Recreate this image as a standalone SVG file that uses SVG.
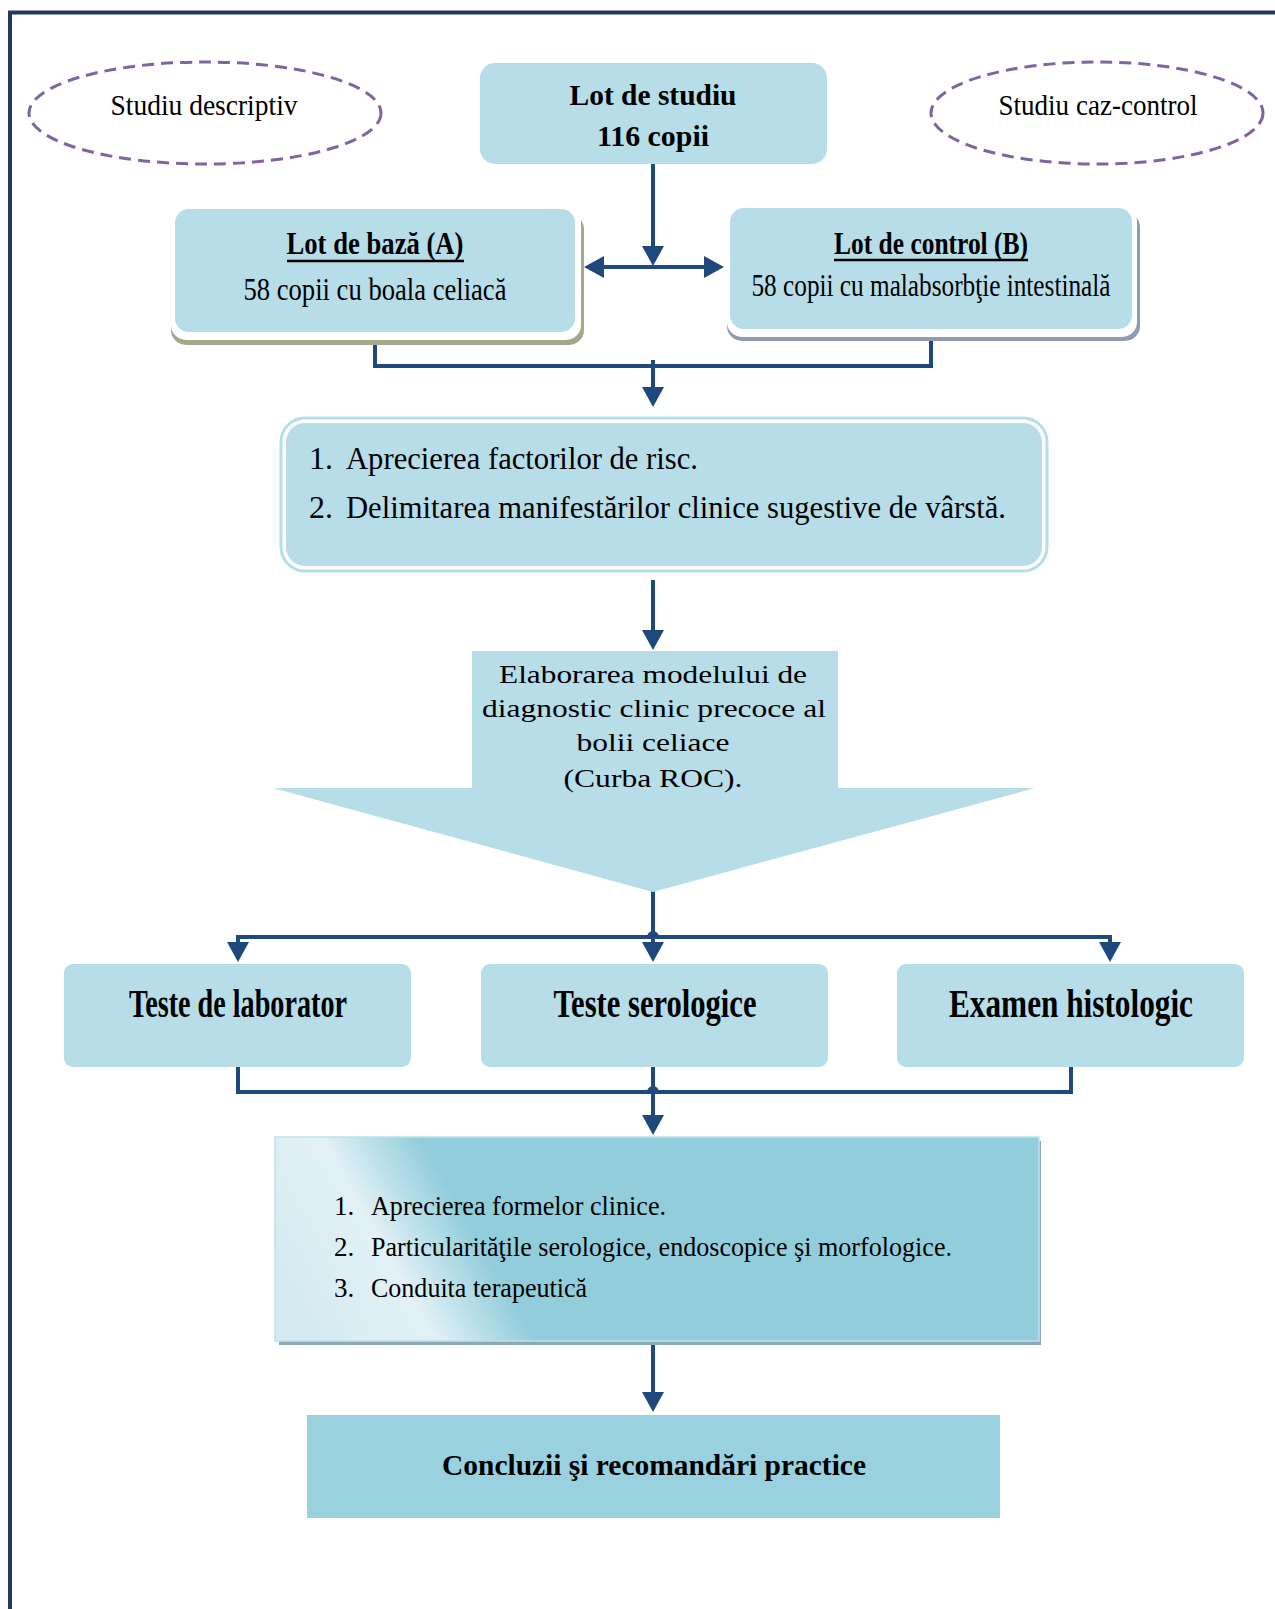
<svg xmlns="http://www.w3.org/2000/svg" width="1275" height="1609" viewBox="0 0 1275 1609">
<style>
.t{font-family:"Liberation Serif","Times New Roman",serif;fill:#000}
.b{font-weight:bold}
.c{text-anchor:middle}
.box{fill:#b7dde8}
.ell{fill:none;stroke:#8064a2;stroke-width:3;stroke-dasharray:12 7}
.con{fill:none;stroke:#1f497d;stroke-width:4}
.ul{stroke:#000;stroke-width:2.6}
</style>
<defs>
<marker id="ah" viewBox="0 0 20 22" refX="10" refY="11" markerWidth="20" markerHeight="22" markerUnits="userSpaceOnUse" orient="auto-start-reverse">
<path d="M0,0 L20,11 L0,22 z" fill="#1f497d"/>
</marker>
<linearGradient id="sheen" gradientUnits="userSpaceOnUse" x1="260" y1="1260" x2="560" y2="1090">
<stop offset="0" stop-color="#d3eaf1"/>
<stop offset="0.33" stop-color="#e2f1f6"/>
<stop offset="0.58" stop-color="#92cddc"/>
<stop offset="1" stop-color="#92cddc"/>
</linearGradient>
</defs>
<rect width="1275" height="1609" fill="#fff"/>
<g id="frame">
<line x1="8" y1="12.5" x2="1275" y2="12.5" stroke="#1f3864" stroke-width="4"/>
<line x1="10" y1="11" x2="10" y2="1609" stroke="#1f3864" stroke-width="4"/>
</g>

<g id="connectors">
<line class="con" x1="653" y1="164" x2="653" y2="256" marker-end="url(#ah)"/>
<line class="con" x1="594" y1="267" x2="714" y2="267" marker-start="url(#ah)" marker-end="url(#ah)"/>
<path class="con" d="M375,334 V366 H931 V338"/>
<line class="con" x1="653" y1="360" x2="653" y2="397" marker-end="url(#ah)"/>
<line class="con" x1="653" y1="580" x2="653" y2="640" marker-end="url(#ah)"/>
<line class="con" x1="653" y1="890" x2="653" y2="952" marker-end="url(#ah)"/>
<path class="con" d="M238,952 V937 H649 a4,4 0 0 1 8,0 H1110 V952" marker-start="url(#ah)" marker-end="url(#ah)"/>
<path class="con" d="M238,1067 V1092 H649 a4,4 0 0 1 8,0 H1071 V1067"/>
<line class="con" x1="653" y1="1067" x2="653" y2="1125" marker-end="url(#ah)"/>
<line class="con" x1="653" y1="1343" x2="653" y2="1402" marker-end="url(#ah)"/>
</g>

<g id="ellipse-descriptiv">
<ellipse class="ell" cx="205" cy="113" rx="176" ry="51"/>
<text class="t c" x="204" y="115" font-size="30" textLength="187" lengthAdjust="spacingAndGlyphs">Studiu descriptiv</text>
</g>
<g id="ellipse-caz-control">
<ellipse class="ell" cx="1097" cy="113" rx="166" ry="51"/>
<text class="t c" x="1098" y="115" font-size="30" textLength="199" lengthAdjust="spacingAndGlyphs">Studiu caz-control</text>
</g>

<g id="lot-studiu">
<rect class="box" x="480" y="63" width="347" height="101" rx="15"/>
<text class="t b c" x="653" y="105" font-size="30" textLength="167" lengthAdjust="spacingAndGlyphs">Lot de studiu</text>
<text class="t b c" x="653" y="146" font-size="30" textLength="112" lengthAdjust="spacingAndGlyphs">116 copii</text>
</g>

<g id="lot-baza">
<rect x="171" y="214" width="413" height="131" rx="15" fill="#a4a98a"/>
<rect x="171" y="207" width="410" height="133" rx="15" fill="#fff"/>
<rect class="box" x="175" y="209" width="400" height="123" rx="14"/>
<text class="t b c" x="375" y="254" font-size="31" textLength="177" lengthAdjust="spacingAndGlyphs">Lot de bază (A)</text>
<line class="ul" x1="287" y1="261" x2="464" y2="261"/>
<text class="t c" x="375" y="300" font-size="31" textLength="263" lengthAdjust="spacingAndGlyphs">58 copii cu boala celiacă</text>
</g>

<g id="lot-control">
<rect x="727" y="212" width="413" height="129" rx="15" fill="#8f9bb0"/>
<rect x="727" y="206" width="410" height="131" rx="15" fill="#fff"/>
<rect class="box" x="730" y="208" width="402" height="121" rx="14"/>
<text class="t b c" x="931" y="254" font-size="31" textLength="194" lengthAdjust="spacingAndGlyphs">Lot de control (B)</text>
<line class="ul" x1="834" y1="260" x2="1028" y2="260"/>
<text class="t c" x="931" y="296" font-size="31" textLength="359" lengthAdjust="spacingAndGlyphs">58 copii cu malabsorbţie intestinală</text>
</g>

<g id="factori">
<rect x="281" y="418" width="766" height="153" rx="24" fill="#fff" stroke="#b7dde8" stroke-width="3"/>
<rect class="box" x="286" y="423" width="756" height="143" rx="19"/>
<text class="t" x="309" y="469" font-size="32">1.</text>
<text class="t" x="346" y="469" font-size="32" textLength="352" lengthAdjust="spacingAndGlyphs">Aprecierea factorilor de risc.</text>
<text class="t" x="309" y="518" font-size="32">2.</text>
<text class="t" x="346" y="518" font-size="32" textLength="660" lengthAdjust="spacingAndGlyphs">Delimitarea manifestărilor clinice sugestive de vârstă.</text>
</g>

<g id="model">
<polygon class="box" points="472,651 838,651 838,788 1035,788 653,892 273,788 472,788"/>
<text class="t c" x="653" y="683" font-size="25" textLength="308" lengthAdjust="spacingAndGlyphs">Elaborarea modelului de</text>
<text class="t c" x="654" y="717" font-size="25" textLength="344" lengthAdjust="spacingAndGlyphs">diagnostic clinic precoce al</text>
<text class="t c" x="653" y="751" font-size="25" textLength="153" lengthAdjust="spacingAndGlyphs">bolii celiace</text>
<text class="t c" x="653" y="787" font-size="25" textLength="179" lengthAdjust="spacingAndGlyphs">(Curba ROC).</text>
</g>

<g id="teste-laborator">
<rect class="box" x="64" y="964" width="347" height="103" rx="9"/>
<text class="t b c" x="238" y="1017" font-size="39" textLength="218" lengthAdjust="spacingAndGlyphs">Teste de laborator</text>
</g>
<g id="teste-serologice">
<rect class="box" x="481" y="964" width="347" height="103" rx="9"/>
<text class="t b c" x="655" y="1017" font-size="39" textLength="203" lengthAdjust="spacingAndGlyphs">Teste serologice</text>
</g>
<g id="examen-histologic">
<rect class="box" x="897" y="964" width="347" height="103" rx="9"/>
<text class="t b c" x="1071" y="1017" font-size="39" textLength="244" lengthAdjust="spacingAndGlyphs">Examen histologic</text>
</g>

<g id="forme-clinice">
<rect x="279" y="1141" width="762" height="204" fill="#8ea8b6"/>
<rect x="275" y="1137" width="764" height="204" fill="url(#sheen)" stroke="#bfe1ea" stroke-width="1.5"/>
<text class="t" x="334" y="1215" font-size="27">1.</text>
<text class="t" x="371" y="1215" font-size="27" textLength="295" lengthAdjust="spacingAndGlyphs">Aprecierea formelor clinice.</text>
<text class="t" x="334" y="1256" font-size="27">2.</text>
<text class="t" x="371" y="1256" font-size="27" textLength="581" lengthAdjust="spacingAndGlyphs">Particularităţile serologice, endoscopice şi morfologice.</text>
<text class="t" x="334" y="1297" font-size="27">3.</text>
<text class="t" x="371" y="1297" font-size="27" textLength="216" lengthAdjust="spacingAndGlyphs">Conduita terapeutică</text>
</g>

<g id="concluzii">
<rect x="307" y="1415" width="693" height="103" fill="#9ad1df"/>
<text class="t b c" x="654" y="1475" font-size="29" textLength="424" lengthAdjust="spacingAndGlyphs">Concluzii şi recomandări practice</text>
</g>
</svg>
